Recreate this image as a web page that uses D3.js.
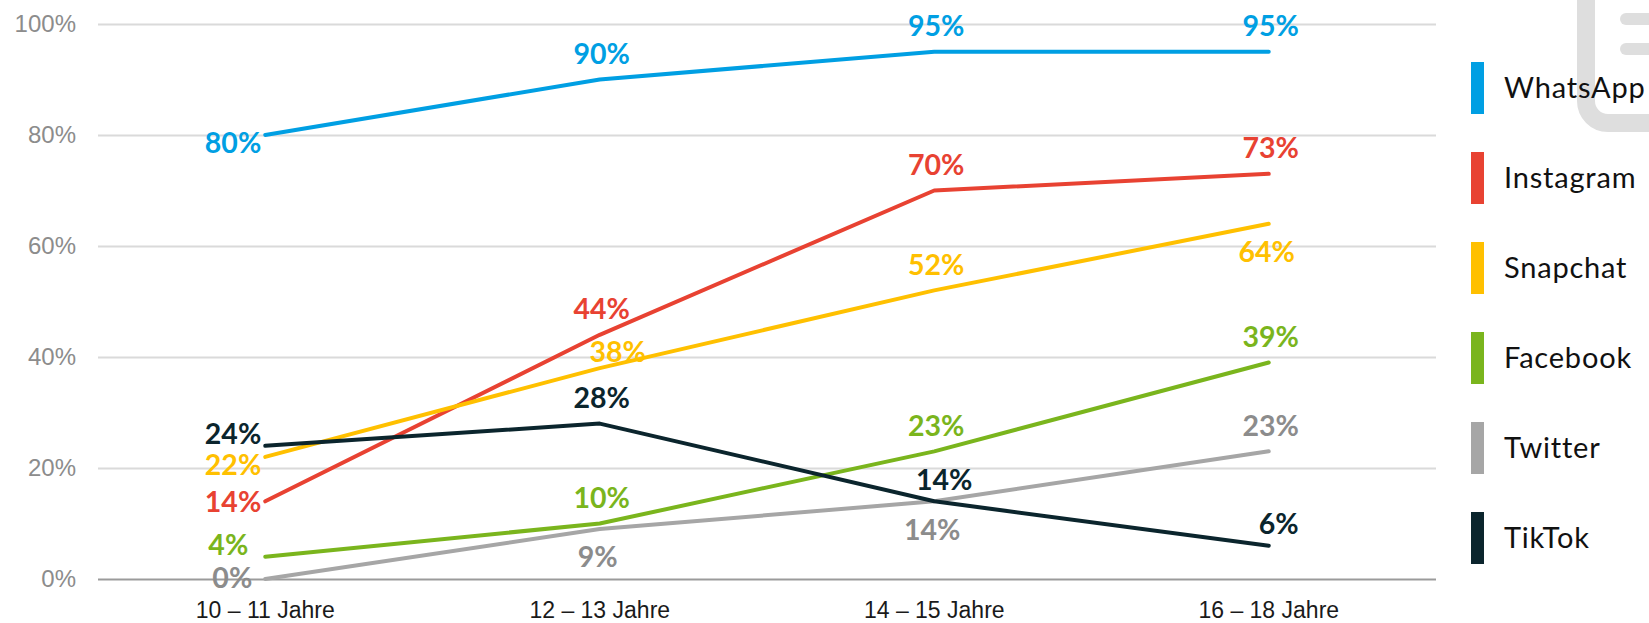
<!DOCTYPE html>
<html>
<head>
<meta charset="utf-8">
<script src="https://cdn.jsdelivr.net/npm/d3@7"></script>
<style>
  body { margin: 0; background: #fff; }
  svg { display: block; font-family: Lato, "Open Sans", sans-serif; }
</style>
</head>
<body>
<svg id="chart" width="1649" height="623"></svg>
<script>
// categories
const ageGroups = ["10 – 11 Jahre", "12 – 13 Jahre", "14 – 15 Jahre", "16 – 18 Jahre"]
const yTicks = [0, 0.2, 0.4, 0.6, 0.8, 1]

// series values (share of kids using the app)
const whatsapp  = [0.80, 0.90, 0.95, 0.95]
const instagram = [0.14, 0.44, 0.70, 0.73]
const snapchat  = [0.22, 0.38, 0.52, 0.64]
const facebook  = [0.04, 0.10, 0.23, 0.39]
const twitter   = [0.00, 0.09, 0.14, 0.23]
const tiktok    = [0.24, 0.28, 0.14, 0.06]

const seriesNames = ["WhatsApp", "Instagram", "Snapchat", "Facebook", "Twitter", "TikTok"]
const seriesValues = [whatsapp, instagram, snapchat, facebook, twitter, tiktok]

// look
const lineColors  = ["#009fe3", "#e84232", "#ffc000", "#7ab51d", "#a6a6a6", "#0b252d"]
const labelColors = ["#009fe3", "#e84232", "#ffc000", "#7ab51d", "#8c8c8c", "#0b252d"]
// where each value label sits relative to its point
const labelPlace = [
  ["LD", "A", "A", "A"],
  ["L",  "A", "A", "A"],
  ["LD", "AR", "A", "B"],
  ["LU0", "A", "A", "A"],
  ["L0", "B", "B", "A"],
  ["LU", "A", "A6", "A6"]
]

const svg = d3.select("#chart")
const x = d3.scaleBand().domain(ageGroups).range([98, 1436])
const y = d3.scaleLinear().domain([0, 1]).range([579, 24])

/*
Axes
*/
const yAxis = svg.append("g")
  .attr("transform", "translate(98,0)")
  .call(d3.axisLeft(y).tickValues(yTicks).tickSize(-1338).tickPadding(22).tickFormat(d3.format(".0%")))
yAxis.select(".domain").remove()
yAxis.selectAll(".tick line")
  .attr("stroke", function(d){ return d === 0 ? "#9b9b9b" : "#dadada" })
  .attr("stroke-width", 2)
yAxis.selectAll(".tick text")
  .attr("fill", "#8c8c8c")
  .attr("font-size", "24px")

const xAxis = svg.append("g")
  .attr("transform", "translate(0,579)")
  .call(d3.axisBottom(x).tickSize(0))
xAxis.select(".domain").remove()
xAxis.selectAll(".tick text")
  .attr("y", 39)
  .attr("dy", null)
  .attr("fill", "#1a1a1a")
  .attr("font-size", "23px")

/*
Lines
*/
const line = d3.line()
  .x(function(d, i){ return x(ageGroups[i]) + x.bandwidth() / 2 })
  .y(function(d){ return y(d) })

svg.append("g").selectAll("path")
  .data(seriesValues)
  .enter()
  .append("path")
    .attr("d", line)
    .attr("fill", "none")
    .attr("stroke", function(d, i){ return lineColors[i] })
    .attr("stroke-width", 4)
    .attr("stroke-linecap", "round")
    .attr("stroke-linejoin", "round")

/*
Value labels
*/
const offsets = {
  "A":   { dx: 2,  dy: -26, anchor: "middle" },
  "A6":  { dx: 10, dy: -22, anchor: "middle" },
  "AR":  { dx: 18, dy: -16, anchor: "middle" },
  "B":   { dx: -2, dy: 28,  anchor: "middle" },
  "L":   { dx: -4, dy: 0,   anchor: "end" },
  "LD":  { dx: -4, dy: 8,   anchor: "end" },
  "LU":  { dx: -4, dy: -12, anchor: "end" },
  "LU0": { dx: -17, dy: -12, anchor: "end" },
  "L0":  { dx: -13, dy: -1,  anchor: "end" }
}

let labels = []
seriesValues.forEach(function(vals, s){
  vals.forEach(function(v, i){
    labels.push({ s: s, i: i, v: v, place: offsets[labelPlace[s][i]] })
  })
})

svg.append("g").selectAll("text")
  .data(labels)
  .enter()
  .append("text")
    .attr("x", function(d){ return x(ageGroups[d.i]) + x.bandwidth() / 2 + d.place.dx })
    .attr("y", function(d){ return y(d.v) + d.place.dy })
    .attr("dy", "0.36em")
    .attr("text-anchor", function(d){ return d.place.anchor })
    .attr("font-size", "28.5px")
    .attr("font-weight", "bold")
    .attr("fill", function(d){ return labelColors[d.s] })
    .text(function(d){ return Math.round(d.v * 100) + "%" })

/*
Logo fragment (top right corner)
*/
const logo = svg.append("g").attr("fill", "none").attr("stroke", "#dedede")
logo.append("rect")
  .attr("x", 1586).attr("y", -60).attr("width", 120).attr("height", 183)
  .attr("rx", 22).attr("stroke-width", 18)
logo.append("line").attr("x1", 1626).attr("x2", 1700).attr("y1", 19).attr("y2", 19)
  .attr("stroke-width", 12).attr("stroke-linecap", "round")
logo.append("line").attr("x1", 1626).attr("x2", 1700).attr("y1", 49).attr("y2", 49)
  .attr("stroke-width", 12).attr("stroke-linecap", "round")

/*
Legend
*/
const legend = svg.append("g").selectAll("g")
  .data(seriesNames)
  .enter()
  .append("g")
    .attr("transform", function(d, i){ return "translate(1471," + (62 + i * 90) + ")" })

legend.append("rect")
  .attr("width", 13)
  .attr("height", 52)
  .attr("fill", function(d, i){ return lineColors[i] })

legend.append("text")
  .attr("x", 33)
  .attr("y", 26)
  .attr("dy", "0.36em")
  .attr("font-size", "29px")
  .attr("letter-spacing", "0.8px")
  .attr("fill", "#111")
  .text(function(d){ return d })
</script>
</body>
</html>
